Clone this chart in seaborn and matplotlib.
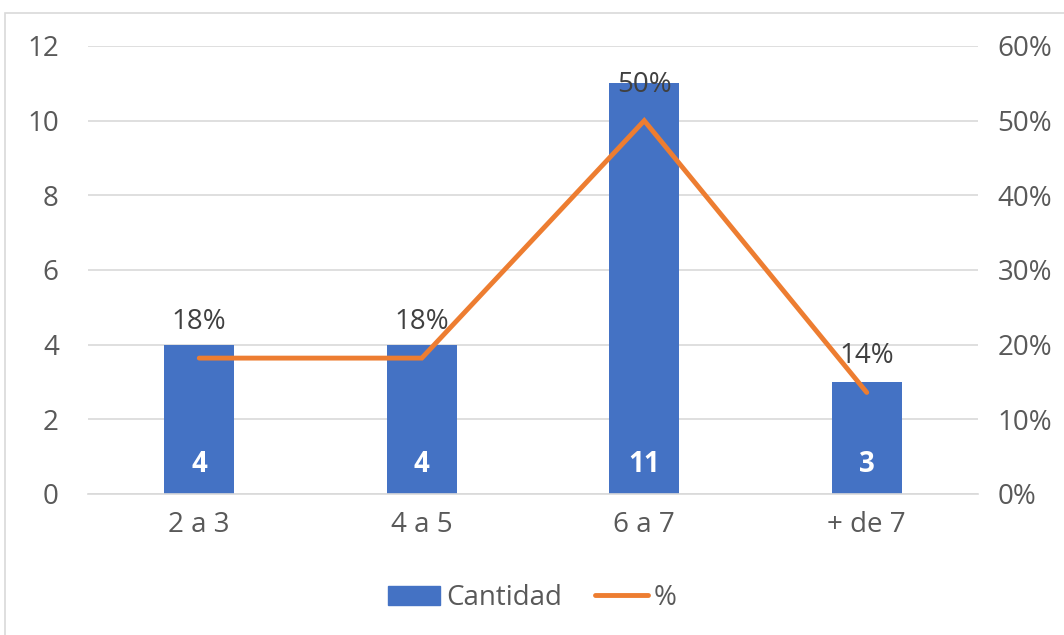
import pandas as pd
import matplotlib.pyplot as plt
import seaborn as sns
from matplotlib.patches import Rectangle
from matplotlib.lines import Line2D
from matplotlib.ticker import PercentFormatter

categorias = ['2 a 3', '4 a 5', '6 a 7', '+ de 7']
cantidad = [4, 4, 11, 3]
porcentaje = [0.182, 0.182, 0.50, 0.136]
etiquetas_pct = ['18%', '18%', '50%', '14%']

data = pd.DataFrame({'Rango': categorias, 'Cantidad': cantidad, '%': porcentaje})

sns.set_style('white')
plt.rcParams['font.family'] = ['Open Sans', 'DejaVu Sans']

azul = '#4472C4'
naranja = '#ED7D31'
gris_txt = '#595959'
fs = 20

fig = plt.figure(figsize=(10.64, 6.35), dpi=100)
# marco del grafico
fig.patches.append(Rectangle((5 / 1064, -0.1), 1.2, 1 - 13 / 635 + 0.1, transform=fig.transFigure,
                             fill=False, edgecolor='#D9D9D9', linewidth=1.2))
ax = fig.add_axes([88 / 1064, 1 - 494 / 635, 890 / 1064, 448 / 635])

sns.barplot(x='Rango', y='Cantidad', data=data, color=azul, width=0.315, saturation=1, ax=ax,
            zorder=2, linewidth=0)
ax.set_ylim(0, 12)
ax.set_yticks(range(0, 13, 2))
ax.set_xlim(-0.5, 3.5)
ax.yaxis.grid(True, color='#D9D9D9', linewidth=1.2, zorder=0)
ax.set_axisbelow(True)
for s in ax.spines.values():
    s.set_visible(False)
ax.spines['bottom'].set_visible(True)
ax.spines['bottom'].set_color('#D9D9D9')
ax.spines['bottom'].set_linewidth(1.2)
ax.set_xlabel('')
ax.set_ylabel('')
ax.tick_params(axis='both', length=0, labelsize=fs, colors=gris_txt)
ax.tick_params(axis='x', pad=12)
ax.tick_params(axis='y', pad=21)

for i, v in enumerate(cantidad):
    ax.annotate(str(v), (i, 0), xytext=(0, 30), textcoords='offset pixels', ha='center', va='center',
                color='white', fontsize=fs, fontweight='bold')

ax2 = ax.twinx()
sns.lineplot(x='Rango', y='%', data=data, color=naranja, linewidth=3.5, ax=ax2, sort=False,
             solid_capstyle='round', solid_joinstyle='miter')
ax2.set_ylim(0, 0.6)
ax2.set_yticks([0, 0.1, 0.2, 0.3, 0.4, 0.5, 0.6])
ax2.yaxis.set_major_formatter(PercentFormatter(1.0, decimals=0))
for s in ax2.spines.values():
    s.set_visible(False)
ax2.set_ylabel('')
ax2.tick_params(axis='y', length=0, labelsize=fs, colors=gris_txt, pad=14)

for i, (v, t) in enumerate(zip(porcentaje, etiquetas_pct)):
    ax2.annotate(t, (i, v), xytext=(0, 36), textcoords='offset pixels', ha='center', va='center',
                 color='#404040', fontsize=fs)

handles = [Rectangle((0, 0), 1, 1, color=azul), Line2D([0], [0], color=naranja, linewidth=3.5)]
fig.legend(handles, ['Cantidad', '%'], loc='center', bbox_to_anchor=(0.5, 1 - 598 / 635), ncol=2,
           frameon=False, fontsize=fs, labelcolor=gris_txt, handlelength=1.9, columnspacing=1.2,
           handletextpad=0.2)

fig.savefig('out.png', dpi=100)
